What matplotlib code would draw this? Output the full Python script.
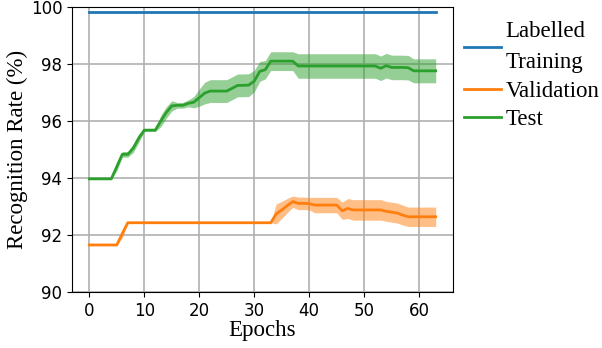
import numpy as np
import matplotlib
matplotlib.use("Agg")
import matplotlib.pyplot as plt

epochs = np.arange(64)

train_acc = [99.82] * 64

val_mean = [91.65] * 6 + [92.05] + [92.43] * 27 + [92.74, 92.88, 93.03, 93.17,
            93.11, 93.11, 93.10] + [93.05] * 5 + [92.85, 92.93] + [92.88] * 6 + \
           [92.83, 92.80, 92.77, 92.70] + [92.64] * 6
val_std = [0.0] * 6 + [0.15] + [0.0] * 27 + [0.35, 0.30, 0.25, 0.20,
           0.22, 0.22, 0.22] + [0.27] * 5 + [0.30, 0.35] + [0.36] * 6 + \
          [0.35] * 4 + [0.34] * 6

test_mean = [93.97] * 5 + [94.40, 94.83, 94.83, 95.05, 95.40, 95.68, 95.68, 95.68,
             96.00, 96.30, 96.53, 96.55, 96.55, 96.62, 96.66, 96.82, 96.98,
             97.05, 97.05, 97.05, 97.05, 97.15, 97.25, 97.25, 97.26, 97.40,
             97.74, 97.80, 98.10] + [98.10] * 4 + [97.93] * 15 + \
            [97.85, 97.94, 97.88, 97.88, 97.88, 97.87, 97.76] + [97.76] * 4
test_std = [0.0] * 5 + [0.15, 0.10, 0.10, 0.15, 0.15, 0.05, 0.05, 0.05,
            0.20, 0.20, 0.18, 0.10, 0.10, 0.12, 0.20, 0.30, 0.38,
            0.40, 0.40, 0.40, 0.40, 0.40, 0.40, 0.40, 0.40, 0.38,
            0.35, 0.32, 0.33] + [0.33] * 4 + [0.43] * 15 + \
           [0.43] * 6 + [0.42] + [0.42] * 4

serif = ["Liberation Serif", "DejaVu Serif"]

fig = plt.figure(figsize=(6.02, 3.48), dpi=100)
ax = fig.add_axes([72 / 602, 1 - 292 / 348, (453 - 72) / 602, (292 - 7) / 348])

val_mean = np.array(val_mean)
val_std = np.array(val_std)
test_mean = np.array(test_mean)
test_std = np.array(test_std)

ax.plot(epochs, train_acc, color="tab:blue", lw=2, label="Labelled\nTraining")
ax.plot(epochs, val_mean, color="tab:orange", lw=2, label="Validation")
ax.fill_between(epochs, val_mean - val_std, val_mean + val_std,
                color="tab:orange", alpha=0.5, lw=0)
ax.plot(epochs, test_mean, color="tab:green", lw=2, label="Test")
ax.fill_between(epochs, test_mean - test_std, test_mean + test_std,
                color="tab:green", alpha=0.5, lw=0)

ax.set_ylim(90, 100)
ax.set_xticks([0, 10, 20, 30, 40, 50, 60])
ax.set_yticks([90, 92, 94, 96, 98, 100])
ax.tick_params(labelsize=12)
ax.grid(True, color="#b0b0b0", lw=1.2)
ax.set_axisbelow(True)
ax.set_xlabel("Epochs", fontsize=16.5, family=serif, labelpad=0)
ax.set_ylabel("Recognition Rate (%)", fontsize=16.5, family=serif, labelpad=2)

leg = ax.legend(loc="upper left", bbox_to_anchor=(1.0, 0.992), frameon=False,
                prop={"family": serif, "size": 16.5}, handlelength=1.6,
                handletextpad=0.2, labelspacing=0.33, borderaxespad=0.1)
for t in leg.get_texts():
    t.set_linespacing(1.65)

plt.savefig("out.png", dpi=100)
plt.close()
